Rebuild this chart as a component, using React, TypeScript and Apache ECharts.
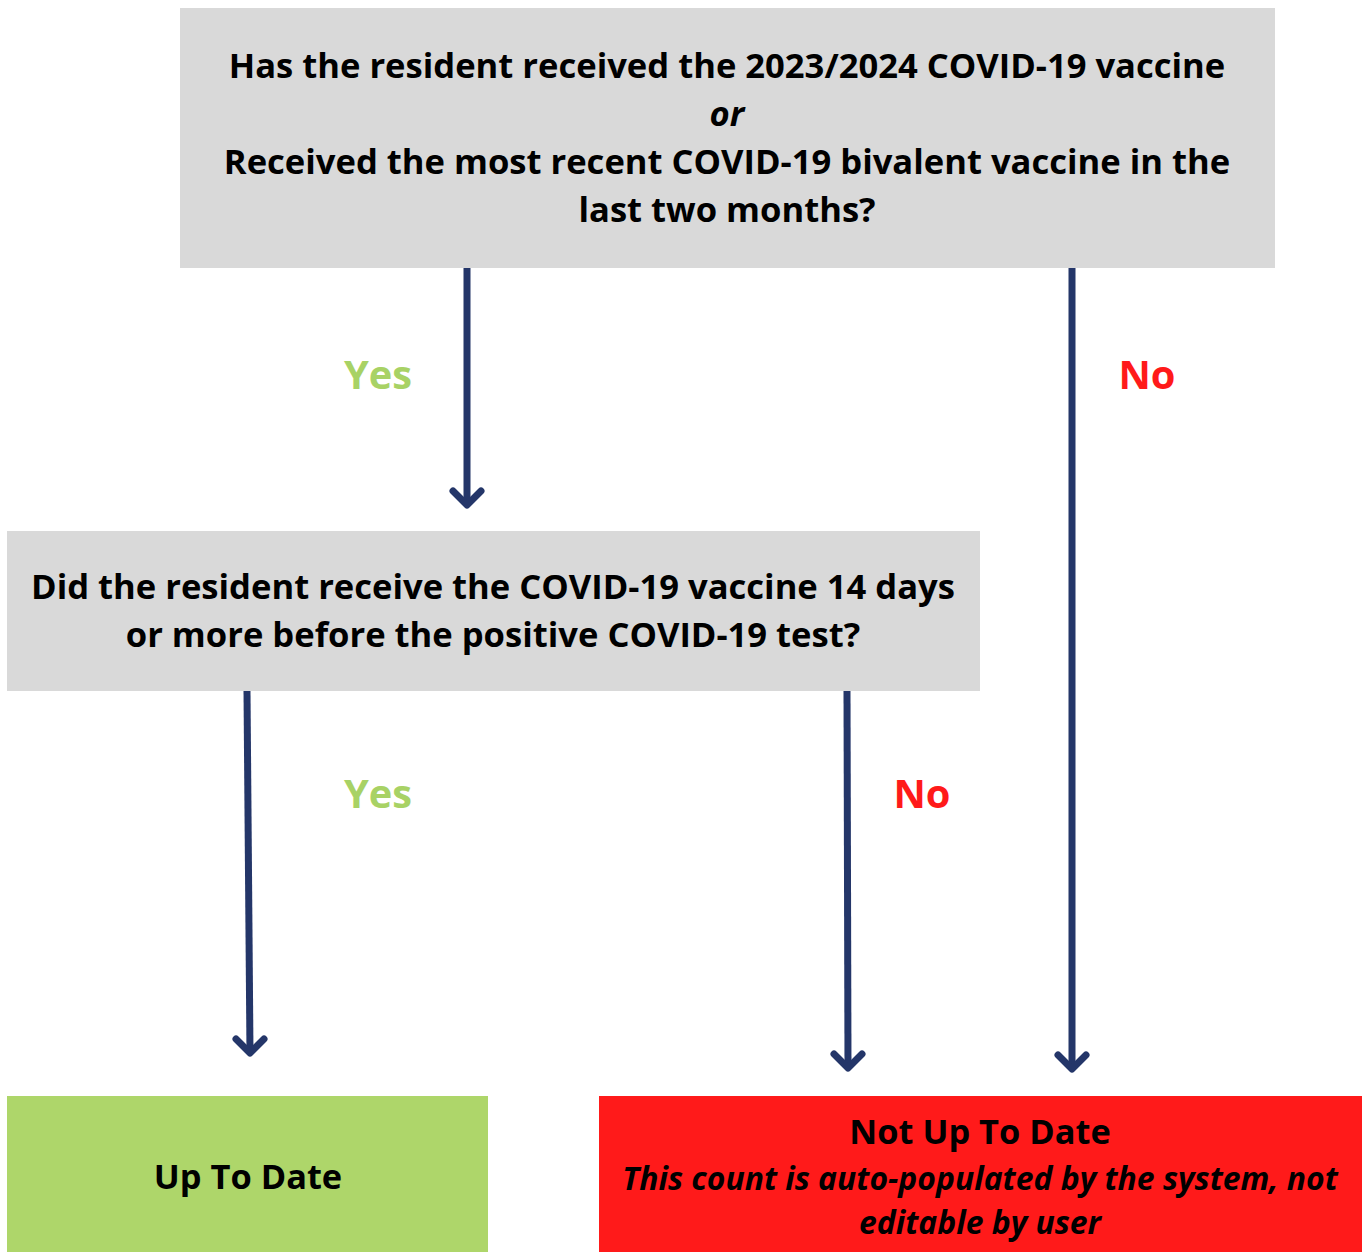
import React, { useEffect, useRef } from "react";
import * as echarts from "echarts";

const topQuestion = [
  "Has the resident received the 2023/2024 COVID-19 vaccine",
  "or",
  "Received the most recent COVID-19 bivalent vaccine in the",
  "last two months?",
];
const midQuestion = [
  "Did the resident receive the COVID-19 vaccine 14 days",
  "or more before the positive COVID-19 test?",
];
const upToDate = ["Up To Date"];
const notUpToDate = ["Not Up To Date"];
const notUpToDateNote = ["This count is auto-populated by the system, not", "editable by user"];
const yesLabel = "Yes";
const noLabel = "No";

const W = 1362;
const H = 1252;
const FONT = "'Open Sans', 'Noto Sans', sans-serif";
const NAVY = "#243669";
const GREY = "#d9d9d9";
const GREEN = "#aed66a";
const RED = "#ff1a1a";
const YES_C = "#a8d265";

function arrow(x1: number, y1: number, x2: number, y2: number) {
  const head = 14;
  return [
    {
      type: "line",
      shape: { x1, y1, x2, y2 },
      style: { stroke: NAVY, lineWidth: 7, lineCap: "butt" },
    },
    {
      type: "polyline",
      shape: { points: [[x2 - head, y2 - head], [x2, y2], [x2 + head, y2 - head]] },
      style: { stroke: NAVY, lineWidth: 7, lineCap: "round", lineJoin: "round", fill: "none" },
    },
  ];
}

function txt(x: number, y: number, text: string, size: number, color = "#000", italic = false) {
  return {
    type: "text",
    x,
    y,
    style: {
      text,
      fill: color,
      font: `${italic ? "italic " : ""}bold ${size}px ${FONT}`,
      align: "center",
      verticalAlign: "middle",
    },
  };
}

export default function App() {
  const ref = useRef<HTMLDivElement>(null);
  useEffect(() => {
    document.body.style.margin = "0";
    const chart = echarts.init(ref.current!, null, { renderer: "svg" });
    const elements: any[] = [];
    // boxes
    elements.push({ type: "rect", shape: { x: 180, y: 8, width: 1095, height: 260 }, style: { fill: GREY } });
    elements.push({ type: "rect", shape: { x: 7, y: 531, width: 973, height: 160 }, style: { fill: GREY } });
    elements.push({ type: "rect", shape: { x: 7, y: 1096, width: 481, height: 156 }, style: { fill: GREEN } });
    elements.push({ type: "rect", shape: { x: 599, y: 1096, width: 763, height: 156 }, style: { fill: RED } });
    // arrows
    elements.push(...arrow(467, 268, 467, 505));
    elements.push(...arrow(1072, 268, 1072, 1069));
    elements.push(...arrow(247, 691, 250, 1053));
    elements.push(...arrow(847, 691, 848, 1068));
    // top question
    const topYs = [64, 112, 160, 208];
    topQuestion.forEach((t, i) => elements.push(txt(727, topYs[i], t, 34.6, "#000", i === 1)));
    const midYs = [585, 633];
    midQuestion.forEach((t, i) => elements.push(txt(493, midYs[i], t, 34.6)));
    // labels
    elements.push(txt(378, 373, yesLabel, 39.8, YES_C));
    elements.push(txt(1147, 373, noLabel, 39.8, RED));
    elements.push(txt(378, 792, yesLabel, 39.8, YES_C));
    elements.push(txt(922, 792, noLabel, 39.8, RED));
    // outcomes
    elements.push(txt(248, 1175, upToDate[0], 34.4));
    elements.push(txt(980, 1130, notUpToDate[0], 34.4));
    const noteYs = [1177, 1221];
    notUpToDateNote.forEach((t, i) => elements.push(txt(980, noteYs[i], t, 31.9, "#000", true)));

    chart.setOption({
      animation: false,
      backgroundColor: "#ffffff",
      graphic: { elements },
    });
    return () => chart.dispose();
  }, []);
  return <div ref={ref} style={{ width: W, height: H }} />;
}
